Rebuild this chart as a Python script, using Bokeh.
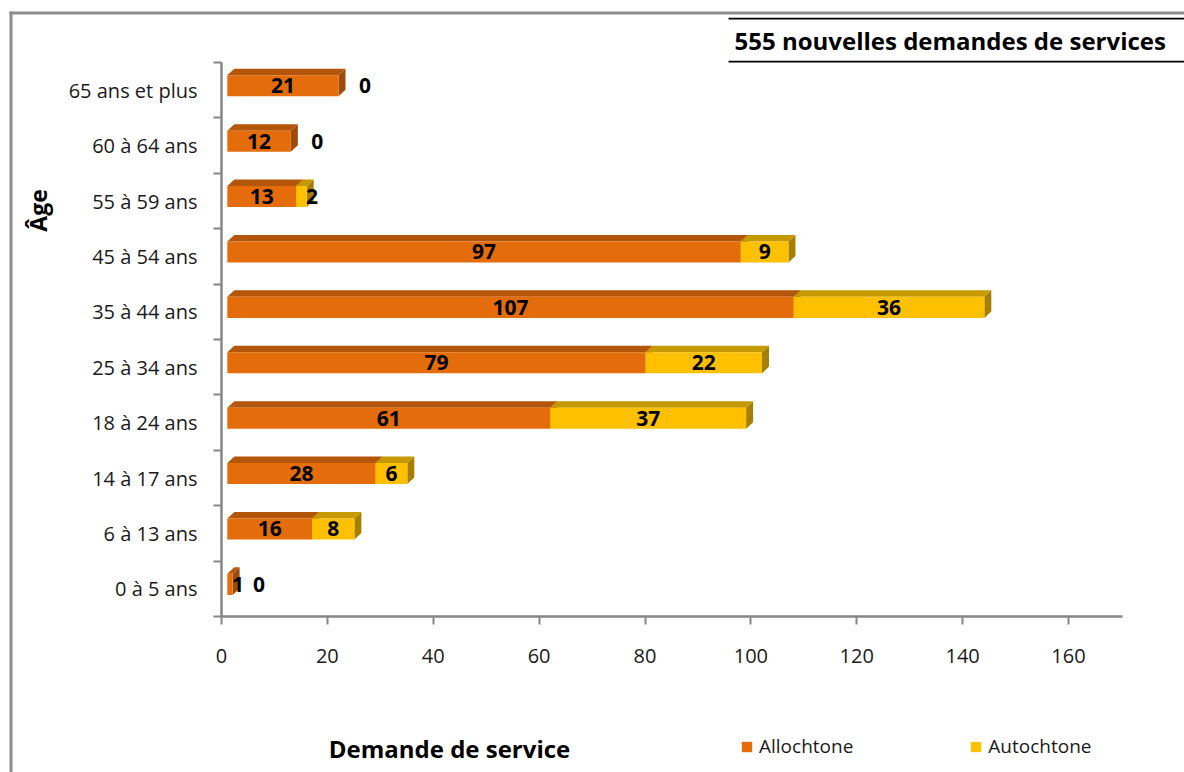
import math
from bokeh.plotting import figure
from bokeh.models import (Range1d, FixedTicker, ColumnDataSource, Label, BoxAnnotation,
                          Legend, LegendItem)
from bokeh.core.properties import value
from bokeh.embed import file_html
from bokeh.resources import INLINE

# ---------------- data ----------------
categories = ["0 à 5 ans", "6 à 13 ans", "14 à 17 ans", "18 à 24 ans", "25 à 34 ans",
              "35 à 44 ans", "45 à 54 ans", "55 à 59 ans", "60 à 64 ans", "65 ans et plus"]
allochtone = [1, 16, 28, 61, 79, 107, 97, 13, 12, 21]
autochtone = [0, 8, 6, 37, 22, 36, 9, 2, 0, 0]
series_names = ["Allochtone", "Autochtone"]
x_ticks = [0, 20, 40, 60, 80, 100, 120, 140, 160]
title_text = "555 nouvelles demandes de services"
x_title = "Demande de service"
y_title = "Âge"

# ---------------- styling ----------------
FONT = "Open Sans"
W, H = 1184, 772
FL, FR, FT, FB = 221, 1122, 62, 616      # plot-area edges in px
XMAX = 170.2
n = len(categories)
px_per_x = (FR - FL) / XMAX
px_per_y = (FB - FT) / n

def X(px):
    return (px - FL) / px_per_x

def Y(py):
    return (n - 0.5) - (py - FT) / px_per_y

front_cols = ["#E46C0A", "#FFC000"]
top_cols = ["#B3560A", "#C49A00"]
side_cols = ["#9E4A08", "#A67F00"]
X0 = 1.1            # 3D offset of bars
DX = 1.32           # depth in x (data units)
DY = 0.117          # depth in y
BOT, TOP = -0.11, 0.27

p = figure(width=W, height=H, x_range=Range1d(X(0), X(W)), y_range=Range1d(Y(H), Y(0)),
           output_backend="svg", toolbar_location=None,
           min_border_left=0, min_border_right=0, min_border_top=0, min_border_bottom=0)
p.outline_line_color = None
p.xgrid.visible = False
p.ygrid.visible = False
p.background_fill_color = "white"
p.border_fill_color = "white"

ys = list(range(n))
series = [allochtone, autochtone]
lefts = [[0] * n, allochtone]
rights = [allochtone, [a + b for a, b in zip(allochtone, autochtone)]]

# side + top faces
for s in range(2):
    txs, tys, sxs, sys_ = [], [], [], []
    for i in range(n):
        a = lefts[s][i] + X0
        b = rights[s][i] + X0
        if series[s][i] <= 0:
            continue
        t = i + TOP
        bo = i + BOT
        txs.append([a, a + DX, b + DX, b])
        tys.append([t, t + DY, t + DY, t])
        sxs.append([b, b, b + DX, b + DX])
        sys_.append([bo, t, t + DY, bo + DY])
    p.patches(sxs, sys_, fill_color=side_cols[s], line_color=None)
    p.patches(txs, tys, fill_color=top_cols[s], line_color=None)

# front faces
renderers = []
for s in range(2):
    src = ColumnDataSource(dict(y=[i + (BOT + TOP) / 2 for i in ys],
                                left=[v + X0 for v in lefts[s]],
                                right=[v + X0 for v in rights[s]]))
    r = p.hbar(y="y", left="left", right="right", height=TOP - BOT, source=src,
               fill_color=front_cols[s], line_color=None)
    renderers.append(r)

# data labels
lx, ly, lt = [], [], []
for s in range(2):
    for i in range(n):
        v = series[s][i]
        a = lefts[s][i] + X0
        b = rights[s][i] + X0
        if v == 0:
            x = b + 5
        elif v < 4:
            x = b + 1
        else:
            x = (a + b) / 2
        lx.append(x)
        ly.append(i + (BOT + TOP) / 2)
        lt.append(str(v))
p.text(x=lx, y=ly, text=lt, text_font=value(FONT), text_font_style="bold",
       text_font_size="21px", text_align="center", text_baseline="middle", text_color="#000000")

# axes (drawn at fixed locations inside the canvas-wide frame)
ax = p.xaxis[0]
ax.fixed_location = -0.5
ax.bounds = (0, XMAX)
ax.ticker = FixedTicker(ticks=x_ticks, minor_ticks=[])
ax.axis_line_color = "#868686"
ax.axis_line_width = 2.5
ax.major_tick_line_color = "#868686"
ax.major_tick_line_width = 2
ax.major_tick_out = 8
ax.major_tick_in = 0
ax.major_label_standoff = 24
ax.major_label_text_font = FONT
ax.major_label_text_font_size = "20px"
ax.major_label_text_color = "#1a1a1a"

ay = p.yaxis[0]
ay.fixed_location = 0
ay.bounds = (-0.5, n - 0.5)
ay.ticker = FixedTicker(ticks=ys, minor_ticks=[i - 0.5 for i in range(n + 1)])
ay.major_label_overrides = {i: c for i, c in enumerate(categories)}
ay.axis_line_color = "#868686"
ay.axis_line_width = 2.5
ay.major_tick_line_color = None
ay.major_tick_out = 8
ay.major_tick_in = 0
ay.minor_tick_line_color = "#868686"
ay.minor_tick_line_width = 2
ay.minor_tick_out = 8
ay.minor_tick_in = 0
ay.major_label_standoff = 16
ay.major_label_text_font = FONT
ay.major_label_text_font_size = "20px"
ay.major_label_text_color = "#1a1a1a"

# outer frame and title box lines
frame_boxes = [dict(left=X(9), right=X(12), top=Y(11), bottom=Y(800)),
               dict(left=X(9), right=X(1200), top=Y(11), bottom=Y(14))]
title_boxes = [dict(left=X(728), right=X(1200), top=Y(17.3), bottom=Y(19)),
               dict(left=X(728), right=X(1200), top=Y(60.3), bottom=Y(62))]
for box in frame_boxes:
    p.add_layout(BoxAnnotation(fill_color="#8c8c8c", fill_alpha=1, line_color=None, **box))
for box in title_boxes:
    p.add_layout(BoxAnnotation(fill_color="#000000", fill_alpha=1, line_color=None, **box))

p.add_layout(Label(x=X(734), y=Y(40), text=title_text, text_font=FONT, text_font_style="bold",
                   text_font_size="24px", text_baseline="middle", text_align="left",
                   text_color="#000000"))
p.add_layout(Label(x=X(449), y=Y(748), text=x_title, text_font=FONT, text_font_style="bold",
                   text_font_size="24px", text_baseline="middle", text_align="center",
                   text_color="#000000"))
p.add_layout(Label(x=X(37), y=Y(210), text=y_title, text_font=FONT, text_font_style="bold",
                   text_font_size="23px", text_baseline="middle", text_align="center",
                   angle=math.pi / 2, text_color="#000000"))

legend = Legend(items=[LegendItem(label=series_names[0], renderers=[renderers[0]]),
                       LegendItem(label=series_names[1], renderers=[renderers[1]])],
                orientation="horizontal", location=(740, 13),
                glyph_width=13, glyph_height=13, label_standoff=6, spacing=116,
                padding=0, margin=0, border_line_color=None, background_fill_alpha=0,
                label_text_font=FONT, label_text_font_size="19px", label_text_color="#1a1a1a")
p.add_layout(legend, "center")

open("out.html", "w").write(file_html(p, INLINE))
